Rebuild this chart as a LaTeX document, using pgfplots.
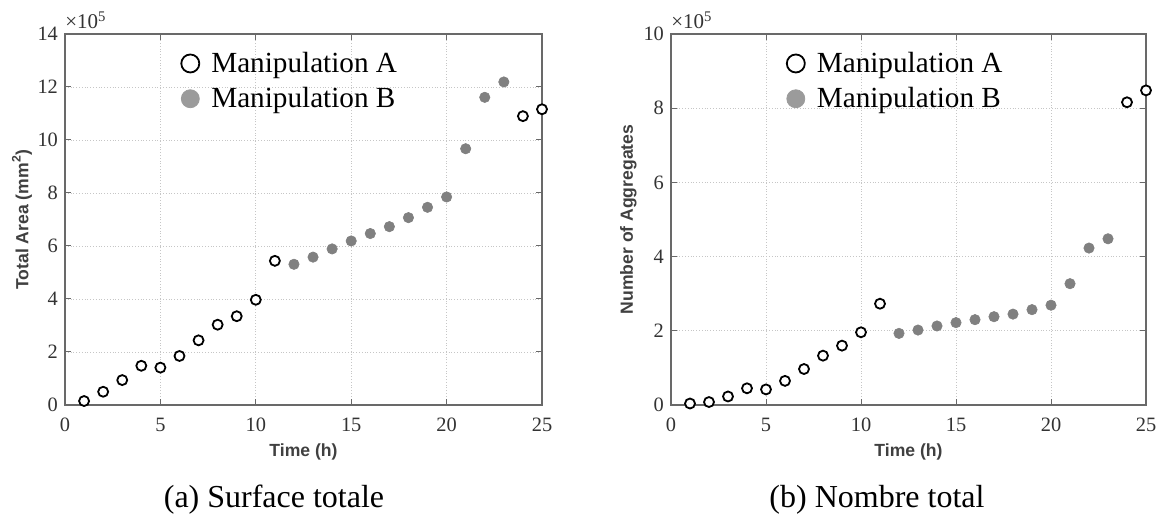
\documentclass[border=0pt]{standalone}
\usepackage{pgfplots}
\pgfplotsset{compat=1.18}
\usepackage{pgfplotstable}
\usepackage{fontspec}
\setmainfont{Liberation Serif}
\newfontfamily\arial{Liberation Sans}

\definecolor{mgray}{RGB}{128,128,128}
\definecolor{lgray}{RGB}{155,155,155}
\definecolor{axgray}{RGB}{105,105,105}

% Total area (x 10^5 mm^2)
\pgfplotstableread{
x y
1 0.15
2 0.50
3 0.94
4 1.48
5 1.41
6 1.85
7 2.44
8 3.03
9 3.35
10 3.97
11 5.44
24 10.90
25 11.16
}\areaA
\pgfplotstableread{
x y
12 5.31
13 5.58
14 5.89
15 6.19
16 6.47
17 6.73
18 7.07
19 7.46
20 7.85
21 9.67
22 11.61
23 12.19
}\areaB
% Number of aggregates (x 10^5)
\pgfplotstableread{
x y
1 0.04
2 0.08
3 0.23
4 0.45
5 0.42
6 0.65
7 0.97
8 1.33
9 1.60
10 1.96
11 2.73
24 8.16
25 8.48
}\numA
\pgfplotstableread{
x y
12 1.93
13 2.02
14 2.13
15 2.22
16 2.30
17 2.38
18 2.45
19 2.57
20 2.69
21 3.27
22 4.23
23 4.48
}\numB

\pgfplotsset{
  myax/.style={
    scale only axis, height=185.5pt,
    xmin=0, xmax=25, xtick={0,5,...,25},
    ymin=0,
    axis line style={axgray, line width=0.6pt},
    tick style={axgray, line width=0.5pt},
    major tick length=3pt,
    tick align=inside,
    grid=major,
    major grid style={densely dotted, gray!45, line width=0.4pt},
    ticklabel style={font=\fontsize{10.2}{12}\selectfont, text=black!80},
    xticklabel style={yshift=-3pt},
    /pgf/number format/assume math mode=true,
    label style={font=\arial\bfseries\fontsize{8.8}{10}\selectfont, text=black!75},
    xlabel={Time (h)},
    xlabel style={at={(axis description cs:0.5,-0.127)}, anchor=center},
    ylabel style={at={(axis description cs:-0.09,0.5)}, anchor=center},
    clip=false,
    legend style={draw=none, fill=none, inner sep=0pt,
      font=\fontsize{14.6}{17}\selectfont, anchor=west,
      cells={anchor=west}, row sep=2pt,
      /tikz/column sep=4pt},
    legend image code/.code={\draw[#1, mark size=4.5pt] plot coordinates {(0pt,0pt)};},
  },
  markA/.style={only marks, mark=*, mark size=2.5pt, mark options={draw=black, fill=white, line width=0.9pt}},
  markB/.style={only marks, mark=*, mark size=2.6pt, mark options={draw=mgray, fill=mgray, line width=0.3pt},
    legend image post style={mark options={draw=lgray, fill=lgray}}},
}

\begin{document}
\begin{tikzpicture}
\path[use as bounding box] (0,0) rectangle (581pt,259pt);

\begin{axis}[myax,
  at={(32.5pt,56.5pt)}, anchor=south west,
  width=238.5pt,
  ymax=14, ytick={0,2,...,14},
  ylabel={Total Area (mm\textsuperscript{2})},
  legend style={at={(rel axis cs:0.243,0.873)}},
]
\addplot[markA] table[x=x,y=y] {\areaA};
\addlegendentry{Manipulation A}
\addplot[markB] table[x=x,y=y] {\areaB};
\addlegendentry{Manipulation B}
\node[anchor=base west, font=\fontsize{10.5}{12}\selectfont, text=black!80, inner sep=0pt]
  at (rel axis cs:0,1) [yshift=2.5pt] {×10\textsuperscript{5}};
\end{axis}

\begin{axis}[myax,
  at={(335.5pt,56.5pt)}, anchor=south west,
  width=237.5pt,
  ymax=10, ytick={0,2,...,10},
  ylabel={Number of Aggregates},
  legend style={at={(rel axis cs:0.243,0.873)}},
]
\addplot[markA] table[x=x,y=y] {\numA};
\addlegendentry{Manipulation A}
\addplot[markB] table[x=x,y=y] {\numB};
\addlegendentry{Manipulation B}
\node[anchor=base west, font=\fontsize{10.5}{12}\selectfont, text=black!80, inner sep=0pt]
  at (rel axis cs:0,1) [yshift=2.5pt] {×10\textsuperscript{5}};
\end{axis}

\node[anchor=base, font=\fontsize{16}{19}\selectfont] at (137pt,5pt) {(a) Surface totale};
\node[anchor=base, font=\fontsize{16}{19}\selectfont] at (438.5pt,5pt) {(b) Nombre total};
\end{tikzpicture}
\end{document}
